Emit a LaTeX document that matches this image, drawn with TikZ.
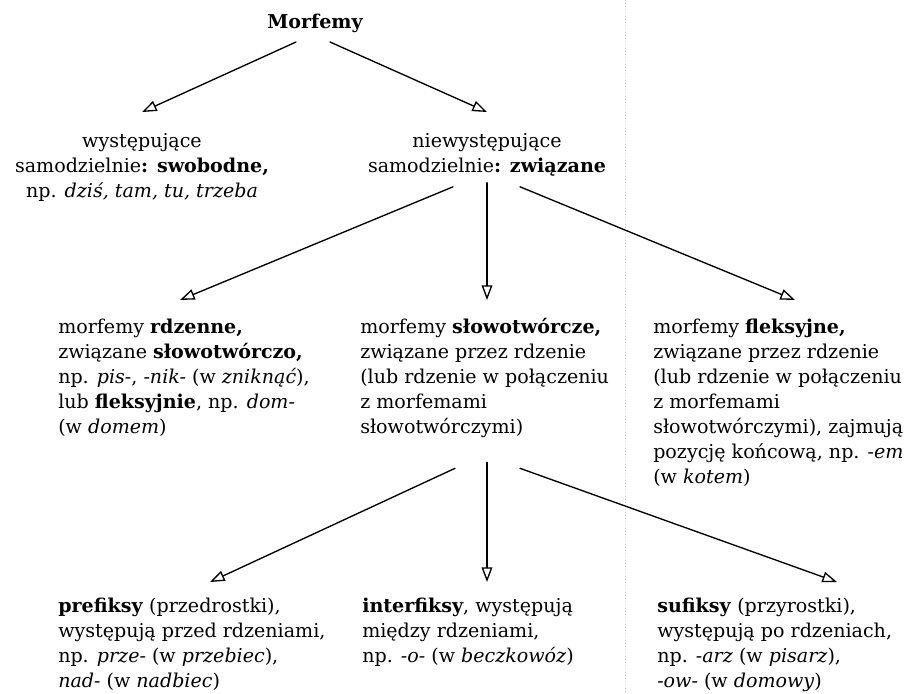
\documentclass[tikz,border=0pt]{standalone}
\usepackage{fontspec}
\setmainfont{DejaVu Serif}
\usetikzlibrary{arrows.meta,calc}

\tikzset{
  strz/.style={-{Triangle[open,length=11pt,width=8pt]},line width=1pt},
  opis/.style={inner sep=0pt,align=left,anchor=north west,
    font=\fontsize{14.3}{18.75}\selectfont},
  opisc/.style={opis,align=center,anchor=north},
}
\newcommand{\gora}{\rule{0pt}{11.8pt}}

\begin{document}
\begin{tikzpicture}[x=0.75pt,y=0.75pt,line cap=round,line join=round]
    \useasboundingbox (0,0) rectangle (913,-693);

    % Linia zgięcia strony
    \draw[black!25,line width=0.4pt,dotted] (625,0) -- (625,-693);

    % Poziom 1
    \node[opisc,anchor=base,font=\fontsize{14.3}{18.75}\selectfont\bfseries]
        (morfemy) at (315,-28) {Morfemy};
    \node[opisc] (swobodne) at (142,-131.3)
        {\gora występujące\\samodzielnie\textbf{: swobodne,}\\np. \textit{dziś, tam, tu, trzeba}};
    \node[opisc] (zwiazane) at (487,-131.3)
        {\gora niewystępujące\\samodzielnie\textbf{: związane}};

    % Poziom 2
    \node[opis] (rdzenne) at (58,-317.3)
        {\gora morfemy \textbf{rdzenne,}\\związane \textbf{słowotwórczo,}\\np. \textit{pis-}, \textit{-nik-} (w \textit{zniknąć}),\\lub \textbf{fleksyjnie}, np. \textit{dom-}\\(w \textit{domem})};
    \node[opis] (slowotw) at (360,-317.3)
        {\gora morfemy \textbf{słowotwórcze,}\\związane przez rdzenie\\(lub rdzenie w połączeniu\\z morfemami\\słowotwórczymi)};
    \node[opis] (fleks) at (653,-317.3)
        {\gora morfemy \textbf{fleksyjne,}\\związane przez rdzenie\\(lub rdzenie w połączeniu\\z morfemami\\słowotwórczymi), zajmują\\pozycję końcową, np. \textit{-em}\\(w \textit{kotem})};

    % Poziom 3
    \node[opis] (prefiksy) at (58,-596.3)
        {\gora\textbf{prefiksy} (przedrostki),\\występują przed rdzeniami,\\np. \textit{prze-} (w \textit{przebiec}),\\\textit{nad-} (w \textit{nadbiec})};
    \node[opis] (interfiksy) at (362,-596.3)
        {\gora\textbf{interfiksy}, występują\\między rdzeniami,\\np. \textit{-o-} (w \textit{beczkowóz})};
    \node[opis] (sufiksy) at (657,-596.3)
        {\gora\textbf{sufiksy} (przyrostki),\\występują po rdzeniach,\\np. \textit{-arz} (w \textit{pisarz}),\\\textit{-ow-} (w \textit{domowy})};

    % Strzałki
    \draw[strz] ($(morfemy.south)+(-19,-9.5)$) -- ($(swobodne.north)+(0,19.3)$);
    \draw[strz] ($(morfemy.south)+(15,-9.5)$) -- ($(zwiazane.north)+(0,19.3)$);

    \draw[strz] ($(zwiazane.south)+(-34,-10.5)$) -- ($(rdzenne.north west)+(122,17.3)$);
    \draw[strz] ($(zwiazane.south)+(0,-6.5)$) -- ($(slowotw.north west -| zwiazane.south)+(0,17.3)$);
    \draw[strz] ($(zwiazane.south)+(33,-10.5)$) -- ($(fleks.north west)+(142,17.3)$);

    \draw[strz] ($(slowotw.south west)+(95,-30.5)$) -- ($(prefiksy.north west)+(152,14.3)$);
    \draw[strz] ($(slowotw.south west -| zwiazane.south)+(0,-24.5)$) -- ($(interfiksy.north west -| zwiazane.south)+(0,14.3)$);
    \draw[strz] ($(slowotw.south west)+(160,-30.5)$) -- ($(sufiksy.north west)+(180,14.3)$);
\end{tikzpicture}
\end{document}
